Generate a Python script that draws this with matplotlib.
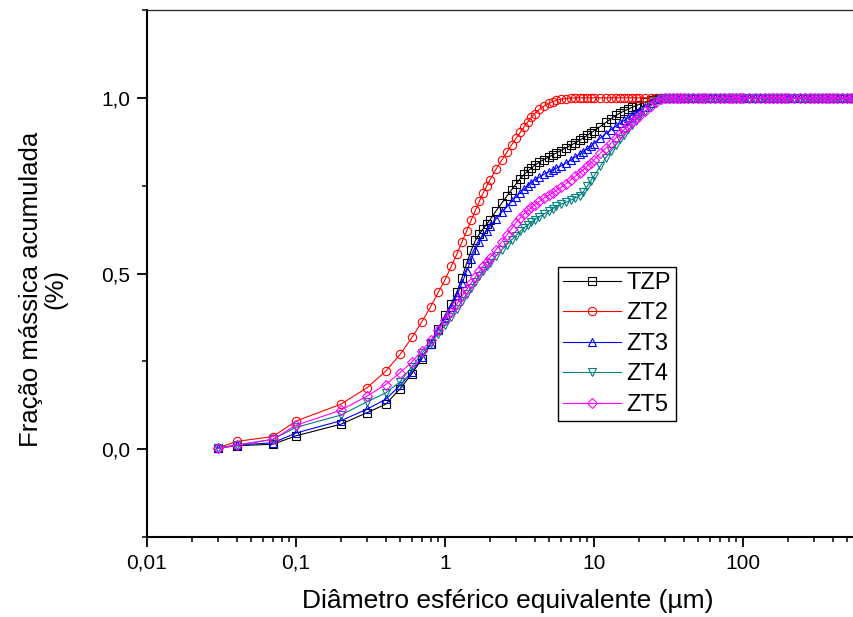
import matplotlib
matplotlib.use('Agg')
import matplotlib.pyplot as plt
from matplotlib.ticker import FixedLocator, LogLocator, NullFormatter

plt.rcParams['font.family'] = ['Liberation Sans', 'DejaVu Sans']

# diametro (um)
size_um = [0.03, 0.04, 0.07, 0.1, 0.2, 0.3, 0.4, 0.5, 0.6, 0.7, 0.8, 0.9,
           1.0, 1.1, 1.2, 1.3, 1.4, 1.5, 1.6, 1.7, 1.8, 1.9,
           2.0, 2.2, 2.4, 2.6, 2.8, 3.0, 3.2, 3.4, 3.6, 3.8,
           4.0, 4.3, 4.6, 5.0, 5.3, 5.6, 6.0, 6.5, 7.0, 7.5, 8.0, 8.5, 9.0, 9.5,
           10, 11, 12, 13, 14, 15, 16, 17, 18, 19, 20, 22, 24, 26, 28, 30,
           32, 34, 36, 38, 40, 43, 46, 50, 53, 56, 60, 65, 70, 75, 80, 85, 90, 95,
           100, 110, 120, 130, 140, 150, 160, 170, 180, 190, 200, 220, 240, 260, 280,
           300, 320, 340, 360, 380, 400, 430, 460, 500, 530, 560]

# above 30 um everything is at 1,0
tail = [1.0, 1.0, 1.0, 1.0, 1.0, 1.0, 1.0, 1.0, 1.0, 1.0, 1.0, 1.0, 1.0, 1.0, 1.0,
        1.0, 1.0, 1.0, 1.0, 1.0, 1.0, 1.0, 1.0, 1.0, 1.0, 1.0, 1.0, 1.0, 1.0, 1.0,
        1.0, 1.0, 1.0, 1.0, 1.0, 1.0, 1.0, 1.0, 1.0, 1.0, 1.0, 1.0, 1.0, 1.0]

tzp = [0.003, 0.010, 0.014, 0.038, 0.071, 0.104, 0.128, 0.172, 0.215, 0.257, 0.299, 0.343,
       0.381, 0.414, 0.447, 0.488, 0.530, 0.566, 0.594, 0.612, 0.627, 0.640,
       0.652, 0.678, 0.700, 0.720, 0.738, 0.755, 0.770, 0.782, 0.792, 0.800,
       0.808, 0.817, 0.824, 0.832, 0.838, 0.843, 0.850, 0.858, 0.865, 0.872, 0.879, 0.886, 0.893, 0.900,
       0.906, 0.918, 0.930, 0.940, 0.950, 0.957, 0.963, 0.968, 0.973, 0.977, 0.981, 0.988, 0.994, 0.998, 1.0, 1.0] + tail

zt2 = [0.004, 0.022, 0.036, 0.080, 0.128, 0.175, 0.222, 0.270, 0.318, 0.363, 0.405, 0.446,
       0.482, 0.520, 0.555, 0.590, 0.622, 0.652, 0.680, 0.705, 0.728, 0.748,
       0.766, 0.797, 0.822, 0.845, 0.866, 0.885, 0.902, 0.918, 0.932, 0.945,
       0.955, 0.967, 0.976, 0.984, 0.989, 0.993, 0.996, 0.998, 0.999, 1.0, 1.0, 1.0, 1.0, 1.0,
       1.0, 1.0, 1.0, 1.0, 1.0, 1.0, 1.0, 1.0, 1.0, 1.0, 1.0, 1.0, 1.0, 1.0, 1.0, 1.0] + tail

zt3 = [0.003, 0.012, 0.018, 0.046, 0.081, 0.114, 0.142, 0.182, 0.220, 0.262, 0.299, 0.339,
       0.372, 0.405, 0.438, 0.472, 0.508, 0.540, 0.567, 0.590, 0.608, 0.622,
       0.634, 0.655, 0.674, 0.690, 0.705, 0.718, 0.730, 0.740, 0.750, 0.759,
       0.766, 0.774, 0.782, 0.790, 0.795, 0.800, 0.806, 0.814, 0.823, 0.832, 0.840, 0.847, 0.855, 0.862,
       0.870, 0.885, 0.898, 0.909, 0.919, 0.928, 0.936, 0.944, 0.951, 0.957, 0.963, 0.975, 0.986, 0.996, 1.0, 1.0] + tail

zt4 = [0.003, 0.012, 0.028, 0.062, 0.097, 0.135, 0.160, 0.192, 0.235, 0.273, 0.301, 0.328,
       0.352, 0.377, 0.400, 0.422, 0.442, 0.460, 0.477, 0.493, 0.507, 0.520,
       0.530, 0.550, 0.567, 0.582, 0.596, 0.608, 0.620, 0.630, 0.639, 0.646,
       0.653, 0.662, 0.669, 0.678, 0.685, 0.691, 0.697, 0.703, 0.709, 0.715, 0.722, 0.733, 0.748, 0.763,
       0.778, 0.805, 0.830, 0.848, 0.866, 0.882, 0.895, 0.910, 0.922, 0.935, 0.945, 0.963, 0.978, 0.990, 0.997, 1.0] + tail

zt5 = [0.002, 0.011, 0.028, 0.068, 0.111, 0.151, 0.184, 0.218, 0.248, 0.280, 0.310, 0.338,
       0.367, 0.390, 0.413, 0.435, 0.455, 0.473, 0.490, 0.506, 0.520, 0.533,
       0.545, 0.568, 0.590, 0.610, 0.628, 0.645, 0.658, 0.670, 0.680, 0.688,
       0.696, 0.705, 0.714, 0.723, 0.730, 0.737, 0.745, 0.756, 0.767, 0.777, 0.787, 0.796, 0.805, 0.814,
       0.823, 0.842, 0.857, 0.871, 0.886, 0.899, 0.910, 0.920, 0.930, 0.940, 0.947, 0.962, 0.977, 0.988, 0.996, 1.0] + tail

labels = ['TZP', 'ZT2', 'ZT3', 'ZT4', 'ZT5']
cores = ['black', '#ff0000', '#0000ff', '#008080', '#ff00ff']
marcadores = ['s', 'o', '^', 'v', 'D']
tamanhos = [5.5, 6, 6, 6, 5]

fig = plt.figure(figsize=(8.54, 6.17), dpi=100)
ax = fig.add_axes([147/854, 80/617, 745/854, 527/617])

for y, lab, c, m, ms in zip([tzp, zt2, zt3, zt4, zt5], labels, cores, marcadores, tamanhos):
    ax.plot(size_um, y, color=c, marker=m, ms=ms, mfc='none', mec=c, mew=0.8, lw=0.8, label=lab)

ax.set_xscale('log')
ax.set_xlim(0.01, 1000)
ax.set_ylim(-0.25, 1.25)

ax.xaxis.set_major_locator(FixedLocator([0.01, 0.1, 1, 10, 100]))
ax.set_xticklabels(['0,01', '0,1', '1', '10', '100'])
ax.xaxis.set_minor_locator(LogLocator(base=10, subs=[2, 3, 4, 5, 6, 7, 8, 9], numticks=20))
ax.xaxis.set_minor_formatter(NullFormatter())
ax.set_yticks([0.0, 0.5, 1.0])
ax.set_yticklabels(['0,0', '0,5', '1,0'])
ax.yaxis.set_minor_locator(FixedLocator([-0.25, 0.25, 0.75, 1.25]))

ax.tick_params(which='major', direction='out', length=7, width=1.3, labelsize=15, pad=5)
ax.tick_params(which='minor', direction='out', length=3.6, width=1.1)
ax.tick_params(top=False, right=False, which='both')

ax.spines['left'].set_linewidth(1.5)
ax.spines['bottom'].set_linewidth(1.5)
ax.spines['top'].set_linewidth(1.0)
ax.spines['top'].set_color('#333333')

ax.set_xlabel('Diâmetro esférico equivalente (µm)', fontsize=19)
ax.xaxis.set_label_coords(0.4846, -0.098)
ax.set_ylabel('Fração mássica acumulada\n(%)', fontsize=18.5, linespacing=1.0)
ax.yaxis.set_label_coords(-0.107, 0.47)

leg = ax.legend(loc='upper left', bbox_to_anchor=(0.552, 0.512), numpoints=1, fontsize=17,
                fancybox=False, framealpha=1, edgecolor='black', handlelength=2.45,
                labelspacing=0.36, borderpad=0.2, handletextpad=0.25, borderaxespad=0)
leg.get_frame().set_linewidth(1.0)

fig.savefig('out.png', dpi=100)
